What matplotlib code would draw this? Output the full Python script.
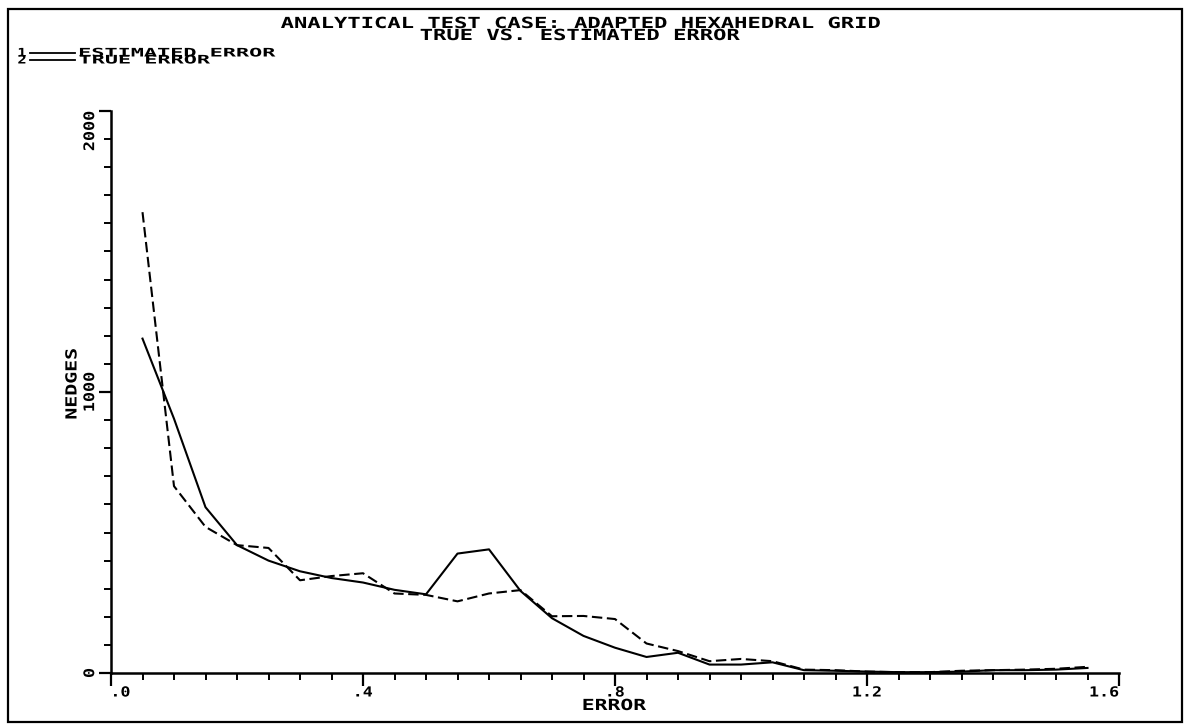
import matplotlib
matplotlib.use("Agg")
import matplotlib.pyplot as plt
from matplotlib import patheffects
from matplotlib.lines import Line2D
from matplotlib.patches import Rectangle
from matplotlib.ticker import MultipleLocator
from matplotlib.transforms import Affine2D

W, H, DPI = 1192, 728, 100

# ---------- data ----------

error = [0.05, 0.10, 0.15, 0.20, 0.25, 0.30, 0.35, 0.40, 0.45, 0.50,
         0.55, 0.60, 0.65, 0.70, 0.75, 0.80, 0.85, 0.90, 0.95, 1.00,
         1.05, 1.10, 1.15, 1.20, 1.25, 1.30, 1.35, 1.40, 1.45, 1.50, 1.55]

estimated_error = [1190, 905, 590, 455, 400, 362, 338, 322, 296, 280,
                   425, 440, 292, 195, 132, 90, 57, 72, 30, 30,
                   38, 10, 8, 5, 3, 3, 5, 10, 10, 12, 18]

true_error = [1640, 665, 520, 455, 445, 330, 345, 355, 283, 278,
              255, 283, 295, 202, 203, 192, 105, 78, 42, 50,
              42, 12, 10, 5, 3, 3, 8, 10, 12, 15, 22]

x_ticks = [0.0, 0.4, 0.8, 1.2, 1.6]
x_tick_labels = [".0", ".4", ".8", "1.2", "1.6"]
y_ticks = [0, 1000, 2000]
y_tick_labels = ["0", "1000", "2000"]

FONT = "DejaVu Sans Mono"


class Widen(patheffects.AbstractPathEffect):
    """Stretch glyphs along the writing direction (fixed-pitch plotter lettering)."""

    def __init__(self, sx=1.36, anchor=0.5):
        super().__init__()
        self.sx = sx
        self.anchor = anchor

    def draw_path(self, renderer, gc, tpath, affine, rgbFace=None):
        ext = tpath.get_extents()
        cx = ext.x0 + self.anchor * (ext.x1 - ext.x0)
        stretch = Affine2D().translate(-cx, 0).scale(self.sx, 1).translate(cx, 0)
        renderer.draw_path(gc, tpath, stretch + affine, rgbFace)


def px(x, y):
    """Pixel position (from top-left) -> figure fraction."""
    return x / W, 1 - y / H


def label(fig, x, y, s, size=11.0, sx=1.45, anchor=0.5, **kw):
    kw.setdefault("ha", "center")
    kw.setdefault("va", "baseline")
    return fig.text(*px(x, y), s, fontsize=size, fontweight="bold",
                    family=FONT, path_effects=[Widen(sx, anchor)], **kw)


# ---------- figure ----------

fig = plt.figure(figsize=(W / DPI, H / DPI), dpi=DPI)
fig.patches.append(Rectangle(px(8, 722), (1182 - 8) / W, (722 - 9) / H,
                             transform=fig.transFigure, fill=False,
                             lw=1.6, ec="black"))

ax = fig.add_axes([111 / W, 55 / H, (1119 - 111) / W, (673 - 111) / H])
ax.plot(error, estimated_error, color="black", lw=1.5, solid_joinstyle="round")
ax.plot(error, true_error, color="black", lw=1.5, linestyle=(0, (5, 2.2)))

ax.set_xlim(0, 1.6)
ax.set_ylim(0, 2000)
for side in ("top", "right"):
    ax.spines[side].set_visible(False)
for side in ("left", "bottom"):
    ax.spines[side].set_linewidth(1.8)

ax.set_xticks(x_ticks)
ax.set_xticklabels(x_tick_labels, fontsize=10, fontweight="bold", family=FONT)
ax.set_yticks(y_ticks)
ax.set_yticklabels(y_tick_labels, fontsize=10.5, fontweight="bold", family=FONT,
                   rotation=90, va="center")
ax.xaxis.set_minor_locator(MultipleLocator(0.05))
ax.yaxis.set_minor_locator(MultipleLocator(100))
ax.tick_params(which="major", direction="out", length=9, width=1.6, pad=1)
ax.tick_params(axis="x", which="major", pad=0)
ax.tick_params(which="minor", direction="out", length=5, width=1.4)

xl = ax.get_xticklabels()
xl[0].set_ha("left")
xl[-1].set_ha("right")
for i, t in enumerate(xl):
    anchor = 0.0 if i == 0 else (1.0 if i == len(xl) - 1 else 0.5)
    t.set_path_effects([Widen(1.2, anchor)])
yl = ax.get_yticklabels()
yl[-1].set_va("top")
for i, t in enumerate(yl):
    t.set_path_effects([Widen(1.15, 1.0 if i == len(yl) - 1 else 0.5)])

# titles and axis names
label(fig, 579, 28, "ANALYTICAL TEST CASE: ADAPTED HEXAHEDRAL GRID")
label(fig, 579, 40, "TRUE VS. ESTIMATED ERROR")
label(fig, 614, 710, "ERROR", sx=1.4)
label(fig, 72, 384, "NEDGES", sx=1.3, rotation=90, va="center")

# legend, drawn as in the plotter output
for n, (name, y) in enumerate([("ESTIMATED ERROR", 53), ("TRUE ERROR", 60)], 1):
    label(fig, 22, y + 3.5, str(n), size=8.5, sx=1.3)
    fig.add_artist(Line2D([30 / W, 75 / W], [1 - y / H] * 2, color="black", lw=1.3))
    label(fig, 79, y + 3.5, name, size=8.5, sx=1.85, anchor=0.0, ha="left")

fig.savefig("out.png", dpi=DPI)
